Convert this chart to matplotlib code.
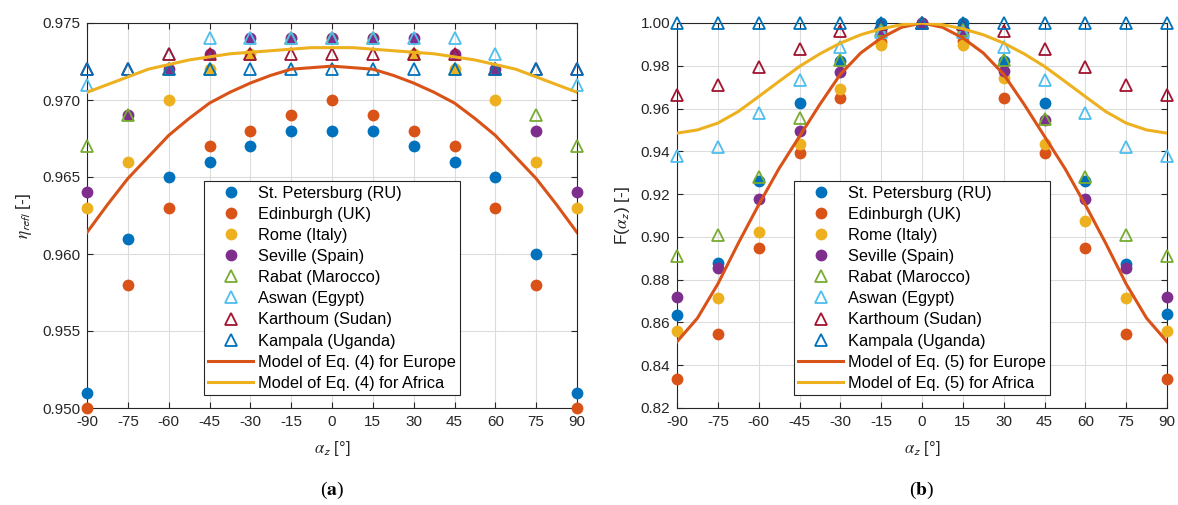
import numpy as np
import matplotlib
matplotlib.use('Agg')
import matplotlib.pyplot as plt

plt.rcParams['font.family'] = ['Liberation Sans', 'DejaVu Sans']
plt.rcParams['mathtext.fontset'] = 'stix'
plt.rcParams['axes.unicode_minus'] = False

# incidence angles of the measurements
angles = [-90, -75, -60, -45, -30, -15, 0, 15, 30, 45, 60, 75, 90]

# (a) reflection efficiency eta_refl
eta_stpetersburg = [0.951, 0.961, 0.965, 0.966, 0.967, 0.968, 0.968, 0.968, 0.967, 0.966, 0.965, 0.960, 0.951]
eta_edinburgh = [0.950, 0.958, 0.963, 0.967, 0.968, 0.969, 0.970, 0.969, 0.968, 0.967, 0.963, 0.958, 0.950]
eta_rome = [0.963, 0.966, 0.970, 0.972, 0.973, 0.974, 0.974, 0.974, 0.973, 0.972, 0.970, 0.966, 0.963]
eta_seville = [0.964, 0.969, 0.972, 0.973, 0.974, 0.974, 0.974, 0.974, 0.974, 0.973, 0.972, 0.968, 0.964]
eta_rabat = [0.967, 0.969, 0.972, 0.972, 0.973, 0.974, 0.974, 0.974, 0.973, 0.972, 0.972, 0.969, 0.967]
eta_aswan = [0.971, 0.972, 0.973, 0.974, 0.974, 0.974, 0.974, 0.974, 0.974, 0.974, 0.973, 0.972, 0.971]
eta_karthoum = [0.972, 0.972, 0.973, 0.973, 0.973, 0.973, 0.973, 0.973, 0.973, 0.973, 0.972, 0.972, 0.972]
eta_kampala = [0.972, 0.972, 0.972, 0.972, 0.972, 0.972, 0.972, 0.972, 0.972, 0.972, 0.972, 0.972, 0.972]

# (b) normalised factor F(alpha_z)
f_stpetersburg = [0.8637, 0.888, 0.926, 0.9627, 0.9823, 1.0, 1.0, 1.0, 0.9823, 0.9627, 0.926, 0.8875, 0.8638]
f_edinburgh = [0.8336, 0.8547, 0.8949, 0.939, 0.9649, 0.9912, 1.0, 0.9914, 0.965, 0.939, 0.895, 0.8548, 0.8336]
f_rome = [0.8559, 0.8712, 0.9023, 0.9433, 0.969, 0.9898, 1.0, 0.9898, 0.9742, 0.9436, 0.9074, 0.8715, 0.856]
f_seville = [0.8718, 0.8854, 0.9176, 0.9496, 0.9772, 0.9958, 1.0, 0.9958, 0.9774, 0.9546, 0.9176, 0.8856, 0.8718]
f_rabat = [0.891, 0.9007, 0.928, 0.9554, 0.9825, 0.9965, 1.0, 0.9965, 0.9825, 0.955, 0.928, 0.9007, 0.891]
f_aswan = [0.938, 0.942, 0.9577, 0.9733, 0.9886, 0.996, 1.0, 0.996, 0.9886, 0.9733, 0.9577, 0.942, 0.938]
f_karthoum = [0.9664, 0.971, 0.9792, 0.9878, 0.9964, 0.9995, 1.0, 0.9995, 0.9964, 0.9878, 0.9792, 0.971, 0.9664]
f_kampala = [1.0] * 13

# model curves
model_angles = [-90, -82.5, -75, -67.5, -60, -52.5, -45, -37.5, -30, -22.5, -15, -7.5, 0,
                7.5, 15, 22.5, 30, 37.5, 45, 52.5, 60, 67.5, 75, 82.5, 90]
eta_model_europe = [0.9614, 0.9632, 0.9649, 0.9663, 0.9677, 0.9688, 0.9698, 0.9705, 0.9711, 0.9716, 0.9720, 0.9721, 0.9722,
                    0.9721, 0.9720, 0.9716, 0.9711, 0.9705, 0.9698, 0.9688, 0.9677, 0.9663, 0.9649, 0.9632, 0.9614]
eta_model_africa = [0.9705, 0.9710, 0.9715, 0.9720, 0.9723, 0.9726, 0.9728, 0.9730, 0.9731, 0.9732, 0.9733, 0.9734, 0.9734,
                    0.9734, 0.9733, 0.9732, 0.9731, 0.9730, 0.9728, 0.9726, 0.9723, 0.9720, 0.9715, 0.9710, 0.9705]
f_model_europe = [0.851, 0.862, 0.878, 0.897, 0.915, 0.932, 0.947, 0.962, 0.976, 0.986, 0.993, 0.998, 1.0,
                  0.998, 0.993, 0.986, 0.976, 0.962, 0.947, 0.932, 0.915, 0.897, 0.878, 0.862, 0.851]
f_model_africa = [0.9485, 0.950, 0.9532, 0.9586, 0.9656, 0.9727, 0.9797, 0.9856, 0.9906, 0.9945, 0.9973, 0.9992, 1.0,
                  0.9992, 0.9973, 0.9945, 0.9906, 0.9856, 0.9797, 0.9727, 0.9656, 0.9586, 0.9532, 0.950, 0.9485]

cities = ['St. Petersburg (RU)', 'Edinburgh (UK)', 'Rome (Italy)', 'Seville (Spain)',
          'Rabat (Marocco)', 'Aswan (Egypt)', 'Karthoum (Sudan)', 'Kampala (Uganda)']
colors = ['#0072BD', '#D95319', '#EDB120', '#7E2F8E', '#77AC30', '#4DBEEE', '#A2142F', '#0072BD']


def draw_panel(ax, series, model_eu, model_af, eq, ylim, yticks, fmt, ylabel):
    for i, (vals, name, col) in enumerate(zip(series, cities, colors)):
        if i < 4:
            ax.plot(angles, vals, 'o', ms=8.5, mfc=col, mec='none', label=name, clip_on=False, zorder=3)
        else:
            ax.plot(angles, vals, '^', ms=8.5, mfc='none', mec=col, mew=1.3, label=name, clip_on=False, zorder=3)
    ax.plot(model_angles, model_eu, '-', color='#D95319', lw=2.2,
            label=f'Model of Eq. ({eq}) for Europe', zorder=4)
    ax.plot(model_angles, model_af, '-', color='#EDB120', lw=2.2,
            label=f'Model of Eq. ({eq}) for Africa', zorder=4)

    ax.set_xlim(-90, 90)
    ax.set_ylim(*ylim)
    ax.set_xticks(range(-90, 91, 15))
    ax.set_yticks(yticks)
    ax.set_yticklabels([fmt.format(v) for v in yticks])
    ax.grid(True, color='#dcdcdc', lw=0.8)
    ax.set_axisbelow(True)
    ax.tick_params(direction='in', top=True, right=True, labelsize=11, colors='#262626',
                   length=4, width=0.8, pad=5)
    for s in ax.spines.values():
        s.set_color('#262626')
        s.set_linewidth(0.8)
    ax.set_xlabel(r'$\alpha_{\mathsf{z}}$ [°]', fontsize=12, color='#262626', labelpad=7)
    ax.set_ylabel(ylabel, fontsize=12.5, color='#262626', labelpad=6)

    leg = ax.legend(loc='lower left', bbox_to_anchor=(0.239, 0.034), fontsize=11.8, frameon=True,
                    fancybox=False, edgecolor='#262626', framealpha=1, handlelength=2.75,
                    handletextpad=0.3, labelspacing=0.375, borderpad=0.25, borderaxespad=0)
    leg.get_frame().set_linewidth(0.8)


fig = plt.figure(figsize=(11.78, 5.05), dpi=100)
ax1 = fig.add_axes([87 / 1178, 97 / 505, 490 / 1178, 385 / 505])
ax2 = fig.add_axes([677 / 1178, 97 / 505, 490 / 1178, 385 / 505])

draw_panel(ax1, [eta_stpetersburg, eta_edinburgh, eta_rome, eta_seville,
                 eta_rabat, eta_aswan, eta_karthoum, eta_kampala],
           eta_model_europe, eta_model_africa, 4, (0.950, 0.975),
           np.arange(0.950, 0.9751, 0.005), '{:.3f}', r'$\eta_{\mathsf{refl}}$ [-]')
draw_panel(ax2, [f_stpetersburg, f_edinburgh, f_rome, f_seville,
                 f_rabat, f_aswan, f_karthoum, f_kampala],
           f_model_europe, f_model_africa, 5, (0.82, 1.0),
           np.arange(0.82, 1.0001, 0.02), '{:.2f}', r'F($\alpha_{\mathsf{z}}$) [-]')

fig.text(332 / 1178, 1 - 490 / 505, r'($\mathbf{a}$)', ha='center', va='center',
         fontsize=14, family='Liberation Serif')
fig.text(922 / 1178, 1 - 490 / 505, r'($\mathbf{b}$)', ha='center', va='center',
         fontsize=14, family='Liberation Serif')

fig.savefig('out.png', dpi=100)
